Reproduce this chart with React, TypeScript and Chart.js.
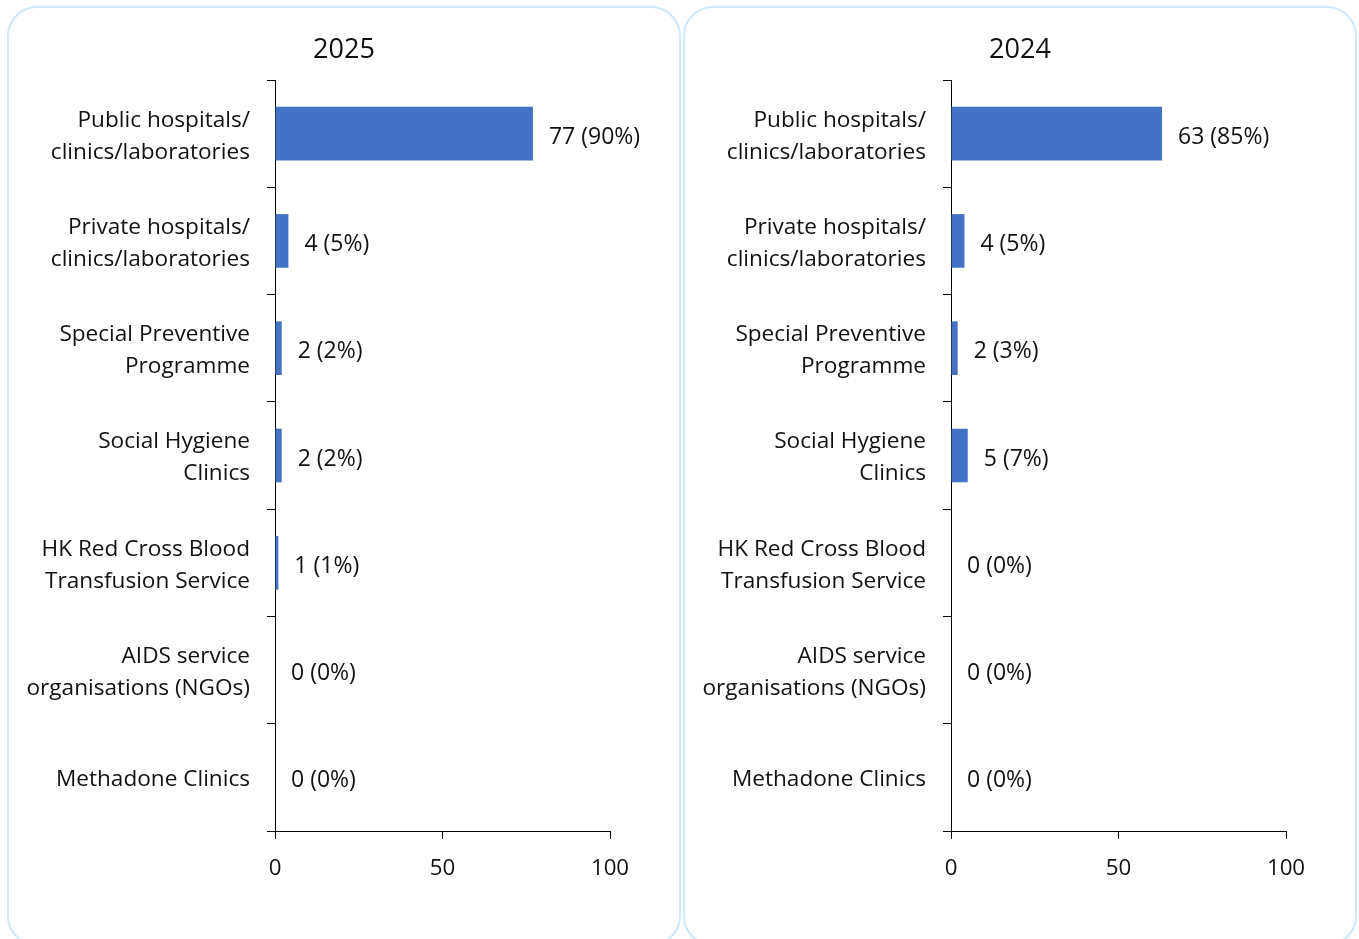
import React, { useEffect, useRef } from 'react';
import { Chart, registerables } from 'chart.js';

Chart.register(...registerables);

const categories: string[][] = [
  ['Public hospitals/', 'clinics/laboratories'],
  ['Private hospitals/', 'clinics/laboratories'],
  ['Special Preventive', 'Programme'],
  ['Social Hygiene', 'Clinics'],
  ['HK Red Cross Blood', 'Transfusion Service'],
  ['AIDS service', 'organisations (NGOs)'],
  ['Methadone Clinics'],
];
const counts2025 = [77, 4, 2, 2, 1, 0, 0];
const pcts2025 = [90, 5, 2, 2, 1, 0, 0];
const counts2024 = [63, 4, 2, 5, 0, 0, 0];
const pcts2024 = [85, 5, 3, 7, 0, 0, 0];
const xMin = 0;
const xMax = 100;
const xStep = 50;
const title2025 = '2025';
const title2024 = '2024';

const FONT = "'Open Sans', 'Noto Sans', sans-serif";
const TEXT = '#111111';
const BAR = '#4472C4';
const CANVAS_W = 670;
const CANVAS_H = 936;

function Panel({ left, title, counts, pcts }: { left: number; title: string; counts: number[]; pcts: number[] }) {
  const ref = useRef<HTMLCanvasElement | null>(null);
  useEffect(() => {
    if (!ref.current) return;
    const labelPlugin = {
      id: 'valueLabels',
      afterDatasetsDraw(chart: any) {
        const ctx = chart.ctx;
        const meta = chart.getDatasetMeta(0);
        ctx.save();
        ctx.font = `23px ${FONT}`;
        ctx.fillStyle = TEXT;
        ctx.textAlign = 'left';
        ctx.textBaseline = 'middle';
        meta.data.forEach((bar: any, i: number) => {
          ctx.fillText(`${counts[i]} (${pcts[i]}%)`, bar.x + 16, bar.y + 3.5);
        });
        ctx.restore();
      },
    };
    const titlePlugin = {
      id: 'panelTitle',
      afterDraw(chart: any) {
        const ctx = chart.ctx;
        ctx.save();
        ctx.font = `27px ${FONT}`;
        ctx.fillStyle = TEXT;
        ctx.textAlign = 'center';
        ctx.textBaseline = 'alphabetic';
        ctx.fillText(title, chart.width / 2, 50);
        ctx.restore();
      },
    };
    const chart = new Chart(ref.current, {
      type: 'bar',
      data: {
        labels: categories,
        datasets: [
          {
            data: counts,
            backgroundColor: BAR,
            borderWidth: 0,
            categoryPercentage: 1,
            barPercentage: 0.5,
          },
        ],
      },
      options: {
        indexAxis: 'y',
        responsive: false,
        animation: false,
        layout: { padding: { top: 72, right: 69, left: 0, bottom: 0 } },
        plugins: {
          legend: { display: false },
          tooltip: { enabled: false },
          title: { display: false },
        },
        scales: {
          x: {
            min: xMin,
            max: xMax,
            ticks: {
              stepSize: xStep,
              color: TEXT,
              font: { family: FONT, size: 22.3 },
              padding: 16.5,
              maxRotation: 0,
            },
            grid: {
              display: true,
              drawOnChartArea: false,
              drawTicks: true,
              tickLength: 8,
              color: '#000',
            },
            border: { display: true, color: '#000', width: 1 },
            afterFit: (scale: any) => {
              scale.height = CANVAS_H - 823;
            },
          },
          y: {
            ticks: {
              color: TEXT,
              font: { family: FONT, size: 22.6, lineHeight: 32 / 22.6 },
              padding: 17,
              autoSkip: false,
              labelOffset: 2.5,
            },
            grid: {
              display: true,
              drawOnChartArea: false,
              drawTicks: true,
              tickLength: 8,
              offset: true,
              color: '#000',
            },
            border: { display: true, color: '#000', width: 1 },
            afterFit: (scale: any) => {
              scale.width = 266;
            },
          },
        },
      },
      plugins: [labelPlugin, titlePlugin],
    });
    return () => chart.destroy();
  }, [title, counts, pcts]);

  return (
    <div
      style={{
        position: 'absolute',
        left,
        top: 6,
        width: 674,
        height: 940,
        boxSizing: 'border-box',
        border: '2px solid #cde9fb',
        borderRadius: 30,
        background: '#fff',
        overflow: 'hidden',
      }}
    >
      <canvas
        ref={ref}
        width={CANVAS_W}
        height={CANVAS_H}
        style={{ display: 'block', width: CANVAS_W, height: CANVAS_H }}
      />
    </div>
  );
}

export default function App() {
  return (
    <div
      style={{
        position: 'fixed',
        left: 0,
        top: 0,
        width: 1359,
        height: 939,
        overflow: 'hidden',
        background: '#fff',
      }}
    >
      <Panel left={7} title={title2025} counts={counts2025} pcts={pcts2025} />
      <Panel left={683} title={title2024} counts={counts2024} pcts={pcts2024} />
    </div>
  );
}
